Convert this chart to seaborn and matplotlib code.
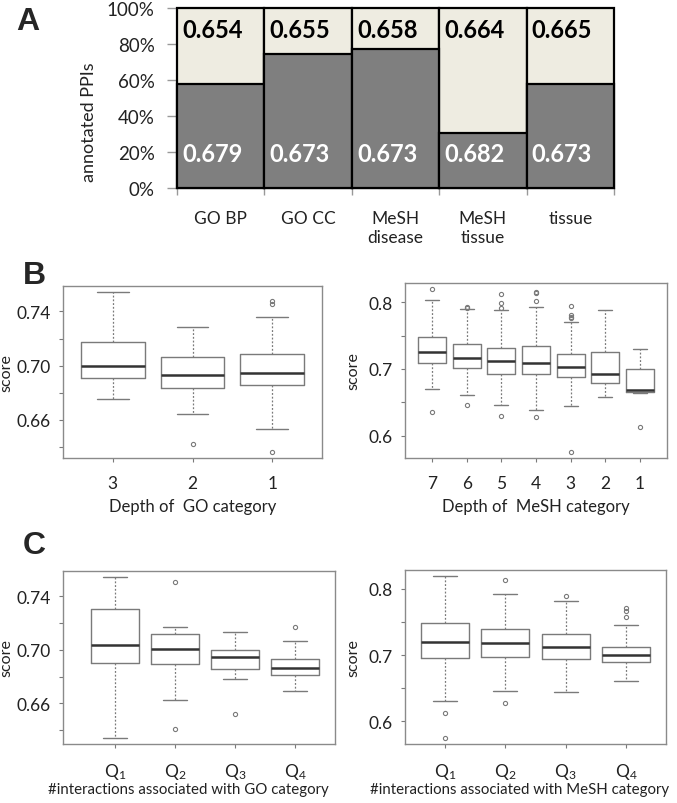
import numpy as np
import pandas as pd
import matplotlib
matplotlib.use("Agg")
import matplotlib.pyplot as plt
import seaborn as sns

# ---- panel A: share of annotated PPIs and mean scores ----
categories = ["GO BP", "GO CC", "MeSH\ndisease", "MeSH\ntissue", "tissue"]
total_pct = [100, 100, 100, 100, 100]
annotated_pct = [57.8, 74.7, 77.5, 30.6, 57.6]
top_scores = ["0.654", "0.655", "0.658", "0.664", "0.665"]
bottom_scores = ["0.679", "0.673", "0.673", "0.682", "0.673"]
pct_ticks = [0, 20, 40, 60, 80, 100]

# ---- panel B: score by depth of category ----
go_depth = ["3", "2", "1"]
go_depth_lo = [0.6752, 0.6642, 0.6536]
go_depth_q1 = [0.6907, 0.6833, 0.6858]
go_depth_med = [0.7000, 0.6931, 0.6946]
go_depth_q3 = [0.7172, 0.7064, 0.7083]
go_depth_hi = [0.7540, 0.7285, 0.7358]
go_depth_out = [[], [0.6426], [0.7476, 0.7456, 0.6367]]

mesh_depth = ["7", "6", "5", "4", "3", "2", "1"]
mesh_depth_lo = [0.6693, 0.6608, 0.6467, 0.6390, 0.6447, 0.6583, 0.6643]
mesh_depth_q1 = [0.7090, 0.7020, 0.6920, 0.6920, 0.6874, 0.6784, 0.6653]
mesh_depth_med = [0.7257, 0.7161, 0.7116, 0.7090, 0.7025, 0.6925, 0.6688]
mesh_depth_q3 = [0.7473, 0.7372, 0.7312, 0.7337, 0.7221, 0.7252, 0.7000]
mesh_depth_hi = [0.8036, 0.7895, 0.7890, 0.7930, 0.7700, 0.7885, 0.7297]
mesh_depth_out = [[0.819, 0.6361], [0.7935, 0.792, 0.6467],
                  [0.8117, 0.799, 0.7915, 0.630], [0.8157, 0.8132, 0.8016, 0.6276],
                  [0.795, 0.7815, 0.7785, 0.7765, 0.5763], [], [0.613]]

# ---- panel C: score by quartile of #interactions ----
quartiles = ["Q$_1$", "Q$_2$", "Q$_3$", "Q$_4$"]
go_q_lo = [0.6345, 0.6624, 0.6786, 0.6691]
go_q_q1 = [0.6900, 0.6895, 0.6855, 0.6813]
go_q_med = [0.7035, 0.7007, 0.6948, 0.6863]
go_q_q3 = [0.7304, 0.7122, 0.7000, 0.6930]
go_q_hi = [0.7541, 0.7167, 0.7135, 0.7065]
go_q_out = [[], [0.7506, 0.6407], [0.6522], [0.7169]]

mesh_q_lo = [0.6298, 0.6460, 0.6439, 0.6611]
mesh_q_q1 = [0.6955, 0.6965, 0.6939, 0.6894]
mesh_q_med = [0.7197, 0.7187, 0.7121, 0.7000]
mesh_q_q3 = [0.7480, 0.7399, 0.7318, 0.7126]
mesh_q_hi = [0.8187, 0.7919, 0.7823, 0.7455]
mesh_q_out = [[0.6126, 0.5753], [0.8126, 0.6278], [0.7894], [0.7707, 0.7667, 0.7571]]

go_ticks = [0.64, 0.66, 0.68, 0.70, 0.72, 0.74]
go_ticklabels = ["", "0.66", "", "0.70", "", "0.74"]
mesh_ticks = [0.60, 0.65, 0.70, 0.75, 0.80]
mesh_ticklabels = ["0.6", "", "0.7", "", "0.8"]

sns.set_style("white")
plt.rcParams["font.family"] = ["Lato", "DejaVu Sans"]
plt.rcParams["mathtext.fontset"] = "custom"
plt.rcParams["mathtext.rm"] = "Lato"
plt.rcParams["mathtext.it"] = "Lato"

W, H = 677, 804
fig = plt.figure(figsize=(W / 100, H / 100), dpi=100)
GRAY = "#7a7a7a"
TXT = "#222222"


def px_axes(l, t, r, b):
    return fig.add_axes([l / W, 1 - b / H, (r - l) / W, (b - t) / H])


# panel A
axA = px_axes(177, 9.3, 614, 189)
dfA = pd.DataFrame({"category": categories, "total": total_pct, "annotated": annotated_pct})
sns.barplot(data=dfA, x="category", y="total", color="#eeece1", saturation=1, width=1,
            edgecolor="black", linewidth=1.6, errorbar=None, ax=axA)
sns.barplot(data=dfA, x="category", y="annotated", color="#7f7f7f", saturation=1, width=1,
            edgecolor="black", linewidth=1.6, errorbar=None, ax=axA)
for p in axA.patches:
    p.set_clip_on(False)
for i in range(len(categories)):
    axA.text(i - 0.44, 88, top_scores[i], ha="left", va="center", fontsize=17,
             fontweight="bold", color="black")
    axA.text(i - 0.44, 19, bottom_scores[i], ha="left", va="center", fontsize=17,
             fontweight="bold", color="white")
axA.set_xlim(-0.5, len(categories) - 0.5)
axA.set_ylim(0, 100)
axA.set_yticks(pct_ticks)
axA.set_yticklabels([f"{v}%" for v in pct_ticks], fontsize=13.5, color=TXT)
axA.set_xticks(np.arange(len(categories) + 1) - 0.5)
axA.set_xticklabels([])
axA.set_xticks(np.arange(len(categories)), minor=True)
axA.set_xticklabels(categories, minor=True, fontsize=12.5, color=TXT, linespacing=1.2)
axA.tick_params(axis="y", left=True, length=7, width=1, color="#999999", pad=9)
axA.tick_params(axis="x", which="major", bottom=True, length=5, width=1, color="#999999")
axA.tick_params(axis="x", which="minor", bottom=True, length=0, pad=16)
for s in axA.spines.values():
    s.set_visible(False)
axA.set_xlabel("")
axA.set_ylabel("")
fig.text(89 / W, 1 - 122 / H, "annotated PPIs", rotation=90, ha="center", va="center",
         fontsize=13, color=TXT)


def draw_boxes(ax, labels, lo, q1, med, q3, hi, out, ticks, ticklabels, xlabel,
               xlim, label_x, xlabel_size, xlabel_pad, xlabel_x):
    stats = [dict(whislo=lo[i], q1=q1[i], med=med[i], q3=q3[i], whishi=hi[i], fliers=out[i])
             for i in range(len(labels))]
    pos = np.arange(1, len(labels) + 1)
    ax.bxp(stats, positions=pos, widths=0.8, capwidths=0.4, manage_ticks=False,
           boxprops=dict(color=GRAY, linewidth=1.0),
           whiskerprops=dict(color=GRAY, linewidth=0.9, linestyle=(0, (1.5, 1.5))),
           capprops=dict(color=GRAY, linewidth=1.0),
           medianprops=dict(color="#333333", linewidth=1.8),
           flierprops=dict(marker="o", markersize=3, markerfacecolor="none",
                           markeredgecolor=GRAY, markeredgewidth=0.8))
    allv = list(lo) + list(hi) + [v for o in out for v in o]
    vmin, vmax = min(allv), max(allv)
    pad = 0.04 * (vmax - vmin)
    ax.set_ylim(vmin - pad, vmax + pad)
    ax.set_xlim(*xlim)
    ax.set_xticks(pos)
    ax.set_xticklabels(labels, fontsize=12.5, color=TXT)
    ax.set_yticks(ticks)
    ax.set_yticklabels(ticklabels, fontsize=12.5, color=TXT)
    ax.tick_params(axis="both", left=True, bottom=True, length=3, width=0.8, color=GRAY)
    ax.tick_params(axis="x", pad=9)
    ax.tick_params(axis="y", pad=6)
    for s in ax.spines.values():
        s.set_color("#8a8a8a")
        s.set_linewidth(1.0)
    ax.set_xlabel(xlabel, fontsize=xlabel_size, color=TXT, labelpad=xlabel_pad)
    ax.xaxis.label.set_x(xlabel_x)
    ax.set_ylabel("score", fontsize=11.5, color=TXT)
    ax.yaxis.set_label_coords(label_x, 0.5)


axB1 = px_axes(63, 287, 322, 459)
draw_boxes(axB1, go_depth, go_depth_lo, go_depth_q1, go_depth_med, go_depth_q3,
           go_depth_hi, go_depth_out, go_ticks, go_ticklabels, "Depth of  GO category",
           (0.38, 3.62), -0.193, 12, 5, 0.5)
axB2 = px_axes(405, 284, 667, 459)
draw_boxes(axB2, mesh_depth, mesh_depth_lo, mesh_depth_q1, mesh_depth_med, mesh_depth_q3,
           mesh_depth_hi, mesh_depth_out, mesh_ticks, mesh_ticklabels, "Depth of  MeSH category",
           (0.22, 7.78), -0.172, 12, 5, 0.5)
axC1 = px_axes(63, 572, 335, 745)
draw_boxes(axC1, quartiles, go_q_lo, go_q_q1, go_q_med, go_q_q3, go_q_hi, go_q_out,
           go_ticks, go_ticklabels, "#interactions associated with GO category",
           (0.133, 4.667), -0.184, 10.8, 1, 0.46)
axC2 = px_axes(405, 571, 666, 745)
draw_boxes(axC2, quartiles, mesh_q_lo, mesh_q_q1, mesh_q_med, mesh_q_q3, mesh_q_hi, mesh_q_out,
           mesh_ticks, mesh_ticklabels, "#interactions associated with MeSH category",
           (0.34, 4.66), -0.172, 10.8, 1, 0.44)

for letter, x, y in [("A", 28, 22), ("B", 34, 276), ("C", 34, 546)]:
    fig.text(x / W, 1 - y / H, letter, ha="center", va="center", fontsize=23,
             fontweight="bold", family="Liberation Sans")

fig.savefig("out.png", dpi=100)
